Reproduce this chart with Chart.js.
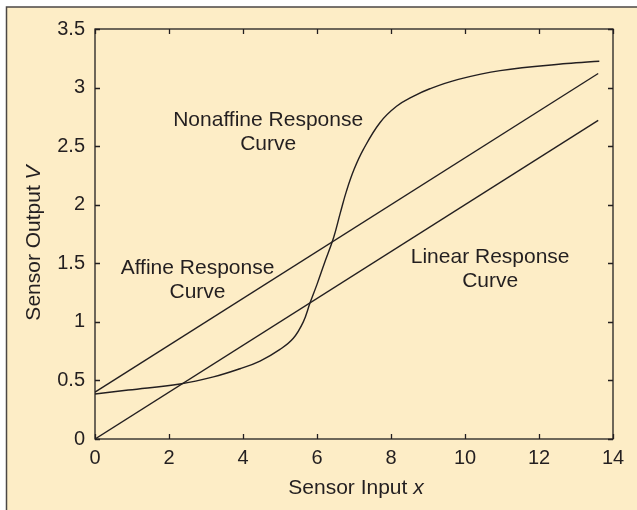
<!DOCTYPE html>
<html>
<head>
<meta charset="utf-8">
<script src="https://cdn.jsdelivr.net/npm/chart.js@4/dist/chart.umd.min.js"></script>
<style>
  html, body { margin: 0; padding: 0; background: #fff; }
  #myChart { display: block; }
</style>
</head>
<body>
<canvas id="myChart" width="637" height="510"></canvas>
<script>
// sensor input range used by both straight responses
const lineInput = [0, 13.6];
const linearOutput = [0, 2.72];
const affineOutput = [0.4, 3.12];

// nonaffine (sigmoid-like) response
const nonaffineInput = [0, 0.9, 2.3, 3.2, 3.92, 4.46, 5.0, 5.36, 5.63, 5.81, 6.0, 6.2, 6.45, 6.63, 6.8, 7.0, 7.25, 7.7, 8.15, 8.6, 9.05, 9.82, 10.95, 12.75, 13.63];
const nonaffineOutput = [0.384, 0.418, 0.47, 0.53, 0.60, 0.665, 0.765, 0.86, 1.00, 1.16, 1.32, 1.50, 1.72, 1.93, 2.12, 2.30, 2.47, 2.70, 2.84, 2.925, 2.99, 3.07, 3.145, 3.205, 3.225];

const xTicks = [0, 2, 4, 6, 8, 10, 12, 14];
const yTicks = [0, 0.5, 1, 1.5, 2, 2.5, 3, 3.5];

const curveNames = {
    nonaffine: ['Nonaffine Response', 'Curve'],
    affine: ['Affine Response', 'Curve'],
    linear: ['Linear Response', 'Curve']
};

document.addEventListener("DOMContentLoaded", function() {
    const ctx = document.getElementById('myChart').getContext('2d');

    const ink = '#231f20';
    const cream = '#fdedc6';
    const fontFamily = '"Liberation Sans", Arial, Helvetica, sans-serif';

    const toPoints = (xs, ys) => xs.map((x, i) => ({ x: x, y: ys[i] }));

    // where each caption sits, in data units
    const captionAnchors = [
        { lines: curveNames.nonaffine, x: 4.68, y: 2.72 },
        { lines: curveNames.affine, x: 2.77, y: 1.46 },
        { lines: curveNames.linear, x: 10.68, y: 1.55 }
    ];

    const framePlugin = {
        id: 'frame',
        beforeDraw(chart) {
            const c = chart.ctx;
            c.save();
            c.fillStyle = '#ffffff';
            c.fillRect(0, 0, chart.width, chart.height);
            c.fillStyle = cream;
            c.fillRect(7, 7, chart.width - 7, chart.height - 7);
            c.strokeStyle = '#4b4744';
            c.lineWidth = 1.5;
            c.beginPath();
            c.moveTo(6.5, chart.height);
            c.lineTo(6.5, 7);
            c.lineTo(chart.width, 7);
            c.stroke();
            c.restore();
        },
        afterDraw(chart) {
            const c = chart.ctx;
            const a = chart.chartArea;
            const xs = chart.scales.x;
            const ys = chart.scales.y;
            c.save();
            c.strokeStyle = ink;
            c.lineWidth = 1.3;
            c.strokeRect(a.left, a.top, a.right - a.left, a.bottom - a.top);

            // inward tick marks on all four sides
            const len = 5;
            c.beginPath();
            xTicks.forEach(v => {
                const px = Math.round(xs.getPixelForValue(v)) + 0.5;
                c.moveTo(px, a.bottom); c.lineTo(px, a.bottom - len);
                c.moveTo(px, a.top); c.lineTo(px, a.top + len);
            });
            yTicks.forEach(v => {
                const py = Math.round(ys.getPixelForValue(v)) + 0.5;
                c.moveTo(a.left, py); c.lineTo(a.left + len, py);
                c.moveTo(a.right, py); c.lineTo(a.right - len, py);
            });
            c.stroke();

            // curve captions
            c.fillStyle = ink;
            c.font = '21px ' + fontFamily;
            c.textAlign = 'center';
            c.textBaseline = 'middle';
            captionAnchors.forEach(cap => {
                const px = xs.getPixelForValue(cap.x);
                const py = ys.getPixelForValue(cap.y);
                cap.lines.forEach((line, i) => c.fillText(line, px, py + i * 24));
            });

            // axis titles with italic variable names
            const drawTitle = (plain, italic, cx, cy) => {
                c.font = '21px ' + fontFamily;
                const w1 = c.measureText(plain).width;
                c.font = 'italic 21px ' + fontFamily;
                const w2 = c.measureText(italic).width;
                let x0 = cx - (w1 + w2) / 2;
                c.textAlign = 'left';
                c.font = '21px ' + fontFamily;
                c.fillText(plain, x0, cy);
                c.font = 'italic 21px ' + fontFamily;
                c.fillText(italic, x0 + w1, cy);
            };
            drawTitle('Sensor Input ', 'x', (a.left + a.right) / 2 + 2, a.bottom + 49);

            c.save();
            c.translate(34, (a.top + a.bottom) / 2 + 9);
            c.rotate(-Math.PI / 2);
            drawTitle('Sensor Output ', 'V', 0, 0);
            c.restore();

            c.restore();
        }
    };

    const lineStyle = {
        showLine: true,
        borderColor: ink,
        borderWidth: 1.4,
        pointRadius: 0,
        pointHoverRadius: 0,
        fill: false
    };

    const myChart = new Chart(ctx, {
        type: 'scatter',
        data: {
            datasets: [
                Object.assign({ label: 'Linear', data: toPoints(lineInput, linearOutput) }, lineStyle),
                Object.assign({ label: 'Affine', data: toPoints(lineInput, affineOutput) }, lineStyle),
                Object.assign({
                    label: 'Nonaffine',
                    data: toPoints(nonaffineInput, nonaffineOutput),
                    tension: 0.4 // smooth spline through the sampled points
                }, lineStyle)
            ]
        },
        options: {
            responsive: false,
            animation: false,
            devicePixelRatio: 1,
            layout: {
                padding: { top: 29, right: 24, left: 0, bottom: 0 }
            },
            scales: {
                x: {
                    type: 'linear',
                    min: 0,
                    max: 14,
                    afterFit: scale => { scale.height = 71; },
                    afterBuildTicks: scale => { scale.ticks = xTicks.map(v => ({ value: v })); },
                    grid: { display: false, drawTicks: false },
                    border: { display: false },
                    ticks: {
                        padding: 7,
                        color: ink,
                        font: { family: fontFamily, size: 20 },
                        callback: value => String(value)
                    }
                },
                y: {
                    type: 'linear',
                    min: 0,
                    max: 3.5,
                    afterFit: scale => { scale.width = 95; },
                    afterBuildTicks: scale => { scale.ticks = yTicks.map(v => ({ value: v })); },
                    grid: { display: false, drawTicks: false },
                    border: { display: false },
                    ticks: {
                        padding: 10,
                        color: ink,
                        font: { family: fontFamily, size: 20 },
                        callback: value => String(value)
                    }
                }
            },
            plugins: {
                legend: { display: false },
                tooltip: { enabled: false }
            }
        },
        plugins: [framePlugin]
    });
});
</script>
</body>
</html>
